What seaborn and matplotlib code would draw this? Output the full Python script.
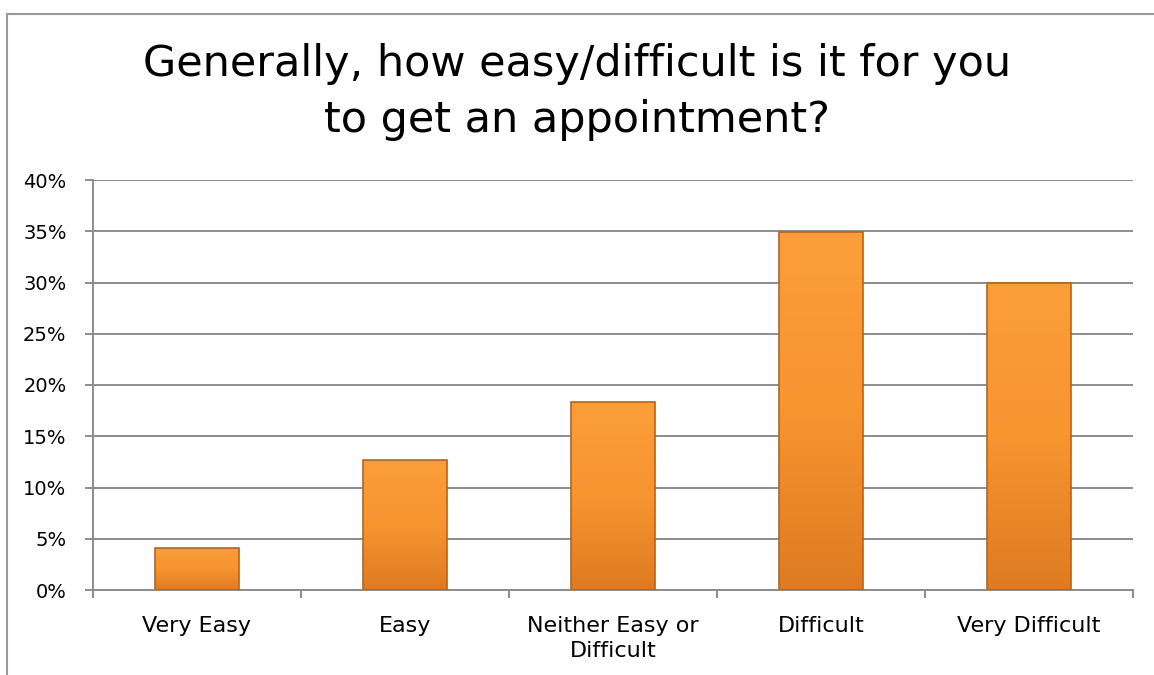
import matplotlib
matplotlib.use("Agg")
import matplotlib.pyplot as plt
import seaborn as sns
import pandas as pd
import numpy as np
from matplotlib.patches import Rectangle
from matplotlib.ticker import PercentFormatter

categories = ["Very Easy", "Easy", "Neither Easy or\nDifficult", "Difficult", "Very Difficult"]
shares = [4.1, 12.7, 18.3, 34.9, 30.0]
title = "Generally, how easy/difficult is it for you\nto get an appointment?"

df = pd.DataFrame({"answer": categories, "share": shares})

sns.set_theme(style="white")
plt.rcParams["font.family"] = ["DejaVu Sans"]

fig = plt.figure(figsize=(11.54, 6.75), dpi=100)
ax = fig.add_axes([93 / 1154, 1 - 590 / 675, 1040 / 1154, 410 / 675])

sns.barplot(data=df, x="answer", y="share", color="#F7952F", width=0.4,
            edgecolor="#B5651D", linewidth=1.2, saturation=1, ax=ax, zorder=3)

# soft vertical shading on each bar, lighter at the top
grad = np.linspace(0, 1, 100).reshape(-1, 1)
cmap = matplotlib.colors.LinearSegmentedColormap.from_list(
    "bar", ["#DE7B22", "#F7952F", "#FB9E3A"])
for bar in ax.patches:
    x0, y0 = bar.get_x(), bar.get_y()
    w, h = bar.get_width(), bar.get_height()
    im = ax.imshow(grad, cmap=cmap, aspect="auto", origin="lower",
                   extent=[x0, x0 + w, y0, y0 + h], zorder=3.5)
    im.set_clip_path(bar)
    bar.set_facecolor("none")
    bar.set_zorder(4)

ax.set_ylim(0, 40)
ax.set_xlim(-0.5, 4.5)
ax.set_yticks(range(0, 41, 5))
ax.yaxis.set_major_formatter(PercentFormatter(decimals=0))
ax.grid(axis="y", color="#8c8c8c", linewidth=1.4, zorder=0)
ax.set_axisbelow(True)
ax.set_xlabel("")
ax.set_ylabel("")

for side in ["top", "right"]:
    ax.spines[side].set_visible(False)
for side in ["left", "bottom"]:
    ax.spines[side].set_color("#8c8c8c")
    ax.spines[side].set_linewidth(1.4)

ax.tick_params(axis="y", left=True, length=6, width=1.4, color="#8c8c8c",
               labelsize=14, labelcolor="black", pad=13)
ax.tick_params(axis="x", which="major", length=0, labelsize=16,
               labelcolor="black", pad=19)
for lbl in ax.get_xticklabels():
    lbl.set_linespacing(1.3)
ax.set_xticks([i - 0.5 for i in range(6)], minor=True)
ax.tick_params(axis="x", which="minor", bottom=True, length=6, width=1.4,
               color="#8c8c8c")

fig.text(0.5, 1 - 92 / 675, title, ha="center", va="center", fontsize=31,
         linespacing=1.45, color="black")

# chart frame
fig.patches.append(Rectangle((7 / 1154, -0.1), 1.2, 1 - 14 / 675 + 0.1,
                             transform=fig.transFigure, fill=False,
                             edgecolor="#999999", linewidth=1.5))

fig.savefig("out.png", dpi=100)
